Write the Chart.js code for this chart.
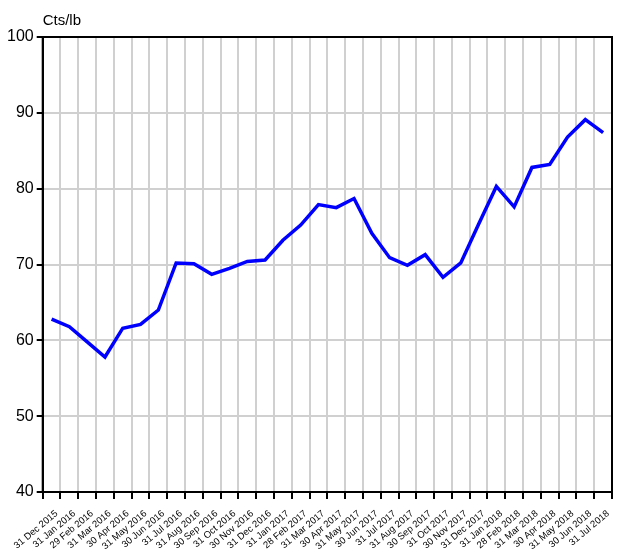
<!DOCTYPE html>
<html>
<head>
<meta charset="utf-8">
<script src="https://cdn.jsdelivr.net/npm/chart.js@4/dist/chart.umd.min.js"></script>
<style>
html,body{margin:0;padding:0;background:#fff;}
#wrap{width:624px;height:556px;position:relative;}
</style>
</head>
<body>
<div id="wrap"><canvas id="c" width="624" height="556"></canvas></div>
<script>
const categories = ["31 Dec 2015","31 Jan 2016","29 Feb 2016","31 Mar 2016","30 Apr 2016","31 May 2016","30 Jun 2016","31 Jul 2016","31 Aug 2016","30 Sep 2016","31 Oct 2016","30 Nov 2016","31 Dec 2016","31 Jan 2017","28 Feb 2017","31 Mar 2017","30 Apr 2017","31 May 2017","30 Jun 2017","31 Jul 2017","31 Aug 2017","30 Sep 2017","31 Oct 2017","30 Nov 2017","31 Dec 2017","31 Jan 2018","28 Feb 2018","31 Mar 2018","30 Apr 2018","31 May 2018","30 Jun 2018","31 Jul 2018"];
const priceCtsLb = [62.8,61.8,59.8,57.8,61.6,62.1,64.0,70.2,70.1,68.7,69.5,70.4,70.6,73.2,75.2,77.9,77.5,78.7,74.1,70.9,69.9,71.3,68.3,70.2,75.3,80.3,77.6,82.8,83.2,86.8,89.1,87.4];
const yTicks = [40,50,60,70,80,90,100];
const unitLabel = "Cts/lb";

const frame = {
  id:'frame',
  afterDraw(chart){
    const {ctx, chartArea:a} = chart;
    ctx.save();
    ctx.strokeStyle = '#000';
    ctx.lineWidth = 2;
    ctx.strokeRect(a.left, a.top, a.right - a.left, a.bottom - a.top);
    ctx.fillStyle = '#000';
    ctx.font = '15px "Liberation Sans", Arial, sans-serif';
    ctx.textAlign = 'left';
    ctx.textBaseline = 'alphabetic';
    ctx.fillText(unitLabel, a.left, a.top - 12);
    ctx.restore();
  }
};

new Chart(document.getElementById('c'), {
  type:'line',
  data:{
    labels: categories,
    datasets:[{
      data: priceCtsLb,
      borderColor:'#0000ff',
      borderWidth:3.5,
      pointRadius:0,
      tension:0,
      fill:false
    }]
  },
  options:{
    responsive:false,
    animation:false,
    layout:{padding:{top:37,right:12,left:0,bottom:0}},
    plugins:{legend:{display:false},tooltip:{enabled:false},title:{display:false}},
    scales:{
      x:{
        offset:true,
        grid:{offset:true,color:'#d0d0d0',lineWidth:2,tickLength:7,tickColor:'#000',tickWidth:2,drawOnChartArea:true},
        border:{color:'#000',width:2},
        ticks:{autoSkip:false,maxRotation:40,minRotation:40,color:'#000',padding:9,labelOffset:5,
          font:{family:'"Liberation Sans", Arial, sans-serif',size:9.5}},
        afterFit(s){ s.height = 64; s.paddingLeft = 0; s.paddingRight = 0; }
      },
      y:{
        min:40,max:100,
        afterBuildTicks(s){ s.ticks = yTicks.map(v=>({value:v})); },
        grid:{color:'#d0d0d0',lineWidth:2,tickLength:6,tickColor:'#000',tickWidth:2},
        border:{color:'#000',width:2},
        ticks:{color:'#000',padding:3,font:{family:'"Liberation Sans", Arial, sans-serif',size:16}},
        afterFit(s){ s.width = 42.7; s.paddingTop = 0; s.paddingBottom = 0; }
      }
    }
  },
  plugins:[frame]
});
</script>
</body>
</html>
